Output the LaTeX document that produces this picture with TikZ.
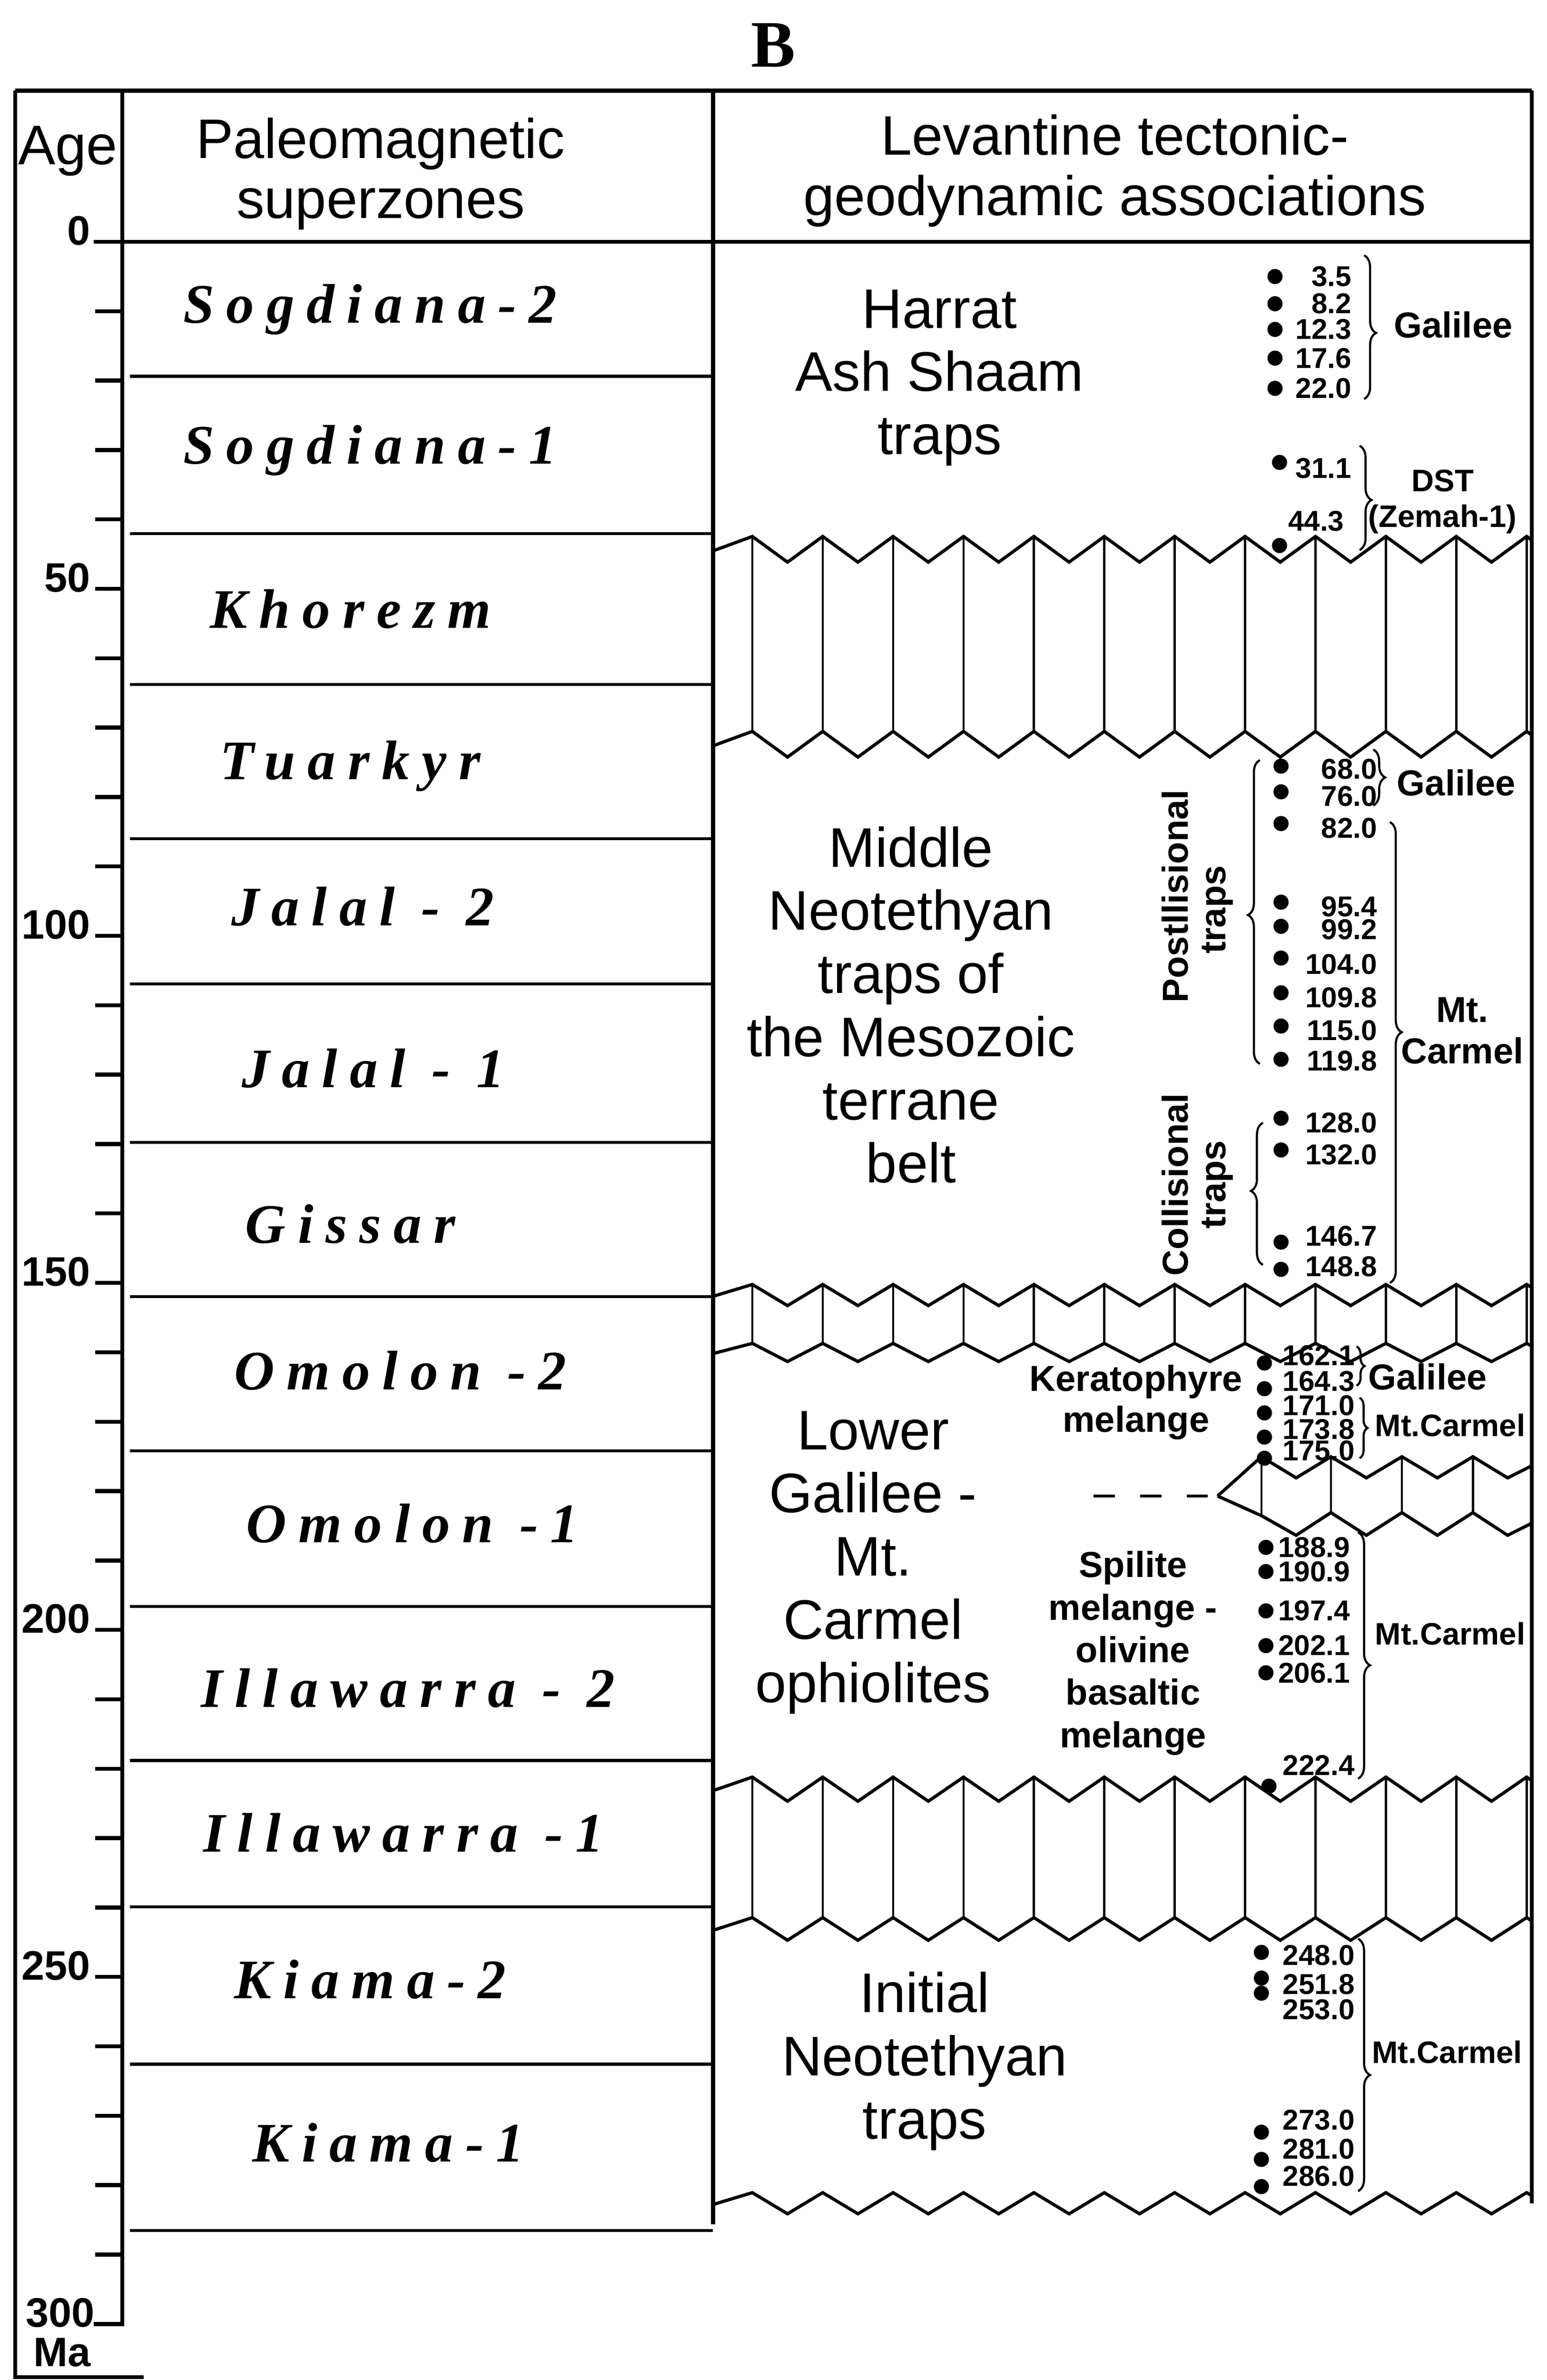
\documentclass[tikz,border=0pt]{standalone}
\usepackage{fontspec}
\setmainfont{Liberation Sans}
\newfontfamily\znfont[LetterSpace=22]{Liberation Serif}
\newfontfamily\titlefont{Liberation Serif}
\usetikzlibrary{decorations.pathreplacing}
\begin{document}
\begin{tikzpicture}[x=0.2mm,y=-0.2mm,
  thickl/.style={line width=1.5pt},
  zl/.style={line width=1.1pt},
  zz/.style={line width=1.2pt,line join=miter},
  vl/.style={line width=0.8pt},
  hdr/.style={font=\fontsize{21}{22.7}\selectfont,align=center,inner sep=0},
  big/.style={font=\fontsize{21}{23.8}\selectfont,align=center,inner sep=0},
  zname/.style={font=\fontsize{21}{24}\selectfont\znfont\bfseries\itshape,inner sep=0},
  agel/.style={font=\fontsize{15.5}{16}\selectfont\bfseries,inner sep=0,anchor=base east},
  num/.style={font=\fontsize{10.8}{12}\selectfont\bfseries,inner sep=0,anchor=east},
  lab/.style={font=\fontsize{13.6}{15.5}\selectfont\bfseries,inner sep=0,align=center},
  slab/.style={font=\fontsize{11.7}{13.5}\selectfont\bfseries,inner sep=0,align=center},
  br/.style={decorate,line width=0.8pt,decoration={brace,amplitude=4.5pt,#1}},
  br/.default={aspect=0.5},
  dot/.style={circle,fill,inner sep=0,minimum size=2mm}
]
\useasboundingbox (0,0) rectangle (1024,1575);
% title
\node[font=\fontsize{25}{28}\selectfont\titlefont\bfseries,inner sep=0] (title) at (512,30) {B};
% frame
\draw[thickl] (10,60) -- (1014,60);
\draw[thickl] (10,60) -- (10,1573) -- (95,1573);
\draw[thickl] (81,60) -- (81,1538) -- (62,1538);
\draw[thickl] (472,60) -- (472,1472);
\draw[thickl] (1014,60) -- (1014,1458);
\draw[thickl] (62,160) -- (1014,160);
% headers
\node[hdr] (hage) at (45,100) {Age};
\node[hdr] (hpal) at (252,115) {Paleomagnetic\\superzones};
\node[hdr] (hlev) at (738,113) {Levantine tectonic-\\geodynamic associations};
% ticks
\foreach \a in {10,20,...,290}{\draw[thickl] (63,{160+4.593*\a}) -- (81,{160+4.593*\a});}
\foreach \a in {0,50,100,150,200,250}{\node[agel] (age\a) at (60,{162+4.593*\a}) {\a};}
\node[agel] (age300) at (63,1540) {300};
\node[font=\fontsize{15.5}{16}\selectfont\bfseries,inner sep=0,anchor=base] (ma) at (41,1566) {Ma};
% zone lines
\foreach \y in {249,353,453,555,651,756,858,960,1063,1165,1262,1366,1476}{\draw[zl] (86,\y) -- (472,\y);}
% zone names
\node[zname] (z1) at (245,205) {Sogdiana-2};
\node[zname] (z2) at (245,298) {Sogdiana-1};
\node[zname] (z3) at (232,403) {Khorezm};
\node[zname] (z4) at (232,507) {Tuarkyr};
\node[zname] (z5) at (240,600) {Jalal - 2};
\node[zname] (z6) at (247,707) {Jalal - 1};
\node[zname] (z7) at (232,810) {Gissar};
\node[zname] (z8) at (265,907) {Omolon -2};
\node[zname] (z9) at (273,1008) {Omolon -1};
\node[zname] (z10) at (270,1117) {Illawarra - 2};
\node[zname] (z11) at (267,1213) {Illawarra -1};
\node[zname] (z12) at (245,1310) {Kiama-2};
\node[zname] (z13) at (257,1418) {Kiama-1};
% zigzag bands
\begin{scope}
\clip (472,0) rectangle (1014,1575);
\foreach \p/\amp in {355/17,484/17,850/14,889/12,1176/16,1269/15,1451/14}{
  \draw[zz] (451.7,\p+\amp) \foreach \k in {0,...,11}{ -- (498+46.6*\k,\p) -- (521.3+46.6*\k,\p+\amp)};
}
\foreach \k in {0,...,11}{
  \draw[vl] (498+46.6*\k,355) -- (498+46.6*\k,484);
  \draw[vl] (498+46.6*\k,850) -- (498+46.6*\k,889);
  \draw[vl] (498+46.6*\k,1176) -- (498+46.6*\k,1269);
}
% partial band
\draw[zz] (806,990) -- (835,964) -- (858,978) -- (881,964) -- (904.5,978) -- (928,964) -- (951.5,978) -- (975,964) -- (998,978) -- (1014,970);
\draw[zz] (806,990) -- (835,1003) -- (858,1016) -- (881,1001) -- (904.5,1016) -- (928,1001) -- (951.5,1016) -- (975,1001) -- (998,1016) -- (1014,1008);
\foreach \x in {835,881,928,975}{\draw[vl] (\x,964) -- (\x,1002);}
\end{scope}
\draw[line width=1.2pt,dash pattern=on 8pt off 9.5pt] (724,990) -- (800,990);
% big texts
\node[big] (harrat) at (622,250) {Harrat\\Ash Shaam\\traps};
\node[big] (middle) at (603,665) {Middle\\Neotethyan\\traps of\\the Mesozoic\\terrane\\belt};
\node[big] (lower) at (578,1034) {Lower\\Galilee -\\Mt.\\Carmel\\ophiolites};
\node[big] (initial) at (612,1364) {Initial\\Neotethyan\\traps};
% group 1
\foreach \n/\y/\t in {a1/183/3.5,a2/201/8.2,a3/218/12.3,a4/237/17.6,a5/257/22.0}{
  \node[dot] at (844,\y) {};
  \node[num] (\n) at (895,\y) {\t};
}
\draw[br={aspect=0.54}] (903,169) -- (903,264);
\node[lab] (gal1) at (962,215) {Galilee};
\node[dot] at (847,306) {};
\node[num] (b1) at (895,310) {31.1};
\node[num] (b2) at (890,345) {44.3};
\node[dot] at (847,361) {};
\draw[br={aspect=0.52}] (900,295) -- (900,364);
\node[slab] (dst) at (955,332) {DST\\(Zemah-1)};
% group 2
\foreach \n/\y/\t in {c1/509/68.0,c2/527/76.0,c3/548/82.0,c4/600/95.4,c5/615/99.2,c6/638/104.0,c7/660/109.8,c8/682/115.0,c9/702/119.8,c10/743/128.0,c11/764/132.0,c12/818/146.7,c13/838/148.8}{
  \node[num] (\n) at (912,\y) {\t};
}
\foreach \y in {507,524,545,597,613,634,657,679,701,740,761,822,840}{\node[dot] at (848,\y) {};}
\draw[br] (909,496) -- (909,533);
\node[lab] (gal2) at (964,518) {Galilee};
\draw[br={aspect=0.456}] (920,544) -- (920,849);
\node[lab] (carm2) at (968,682) {Mt.\\Carmel};
\draw[br={aspect=0.49}] (834,704) -- (834,503);
\draw[br={aspect=0.52}] (836,837) -- (836,743);
\node[lab,rotate=90] (post) at (778,593) {Postllisional};
\node[lab,rotate=90] (postt) at (806,602) {traps};
\node[lab,rotate=90] (coll) at (778,784) {Collisional};
\node[lab,rotate=90] (collt) at (806,784) {traps};
% group 3
\foreach \n/\y/\t in {d1/897/162.1,d2/914/164.3,d3/930/171.0,d4/946/173.8,d5/960/175.0}{
  \node[dot] at (837,\y+5) {};
  \node[num] (\n) at (897,\y) {\t};
}
\draw[br={amplitude=3pt}] (898,891) -- (898,917);
\node[lab] (gal3) at (945,911) {Galilee};
\draw[br={amplitude=3pt}] (900,925) -- (900,965);
\node[slab] (carm3) at (960,943) {Mt.Carmel};
\node[lab] (kera) at (752,928) {Keratophyre\\melange};
\node[lab,font=\fontsize{13.6}{16}\selectfont\bfseries] (spil) at (750,1094) {Spilite\\melange -\\olivine\\basaltic\\melange};
\foreach \n/\y/\t in {e1/1024/188.9,e2/1040/190.9,e3/1066/197.4,e4/1089/202.1,e5/1107/206.1}{
  \node[dot] at (838,\y) {};
  \node[num] (\n) at (894,\y) {\t};
}
\node[num] (e6) at (897,1168) {222.4};
\node[dot] at (840,1182) {};
\draw[br={aspect=0.54}] (899,1014) -- (899,1177);
\node[slab] (carm4) at (960,1081) {Mt.Carmel};
% group 4
\foreach \n/\y/\t in {f1/1294/248.0,f2/1313/251.8,f3/1330/253.0,f4/1403/273.0,f5/1422/281.0,f6/1440/286.0}{
  \node[num] (\n) at (897,\y) {\t};
}
\foreach \y in {1292,1309,1319,1411,1429,1447}{\node[dot] at (835,\y) {};}
\draw[br={aspect=0.54}] (899,1283) -- (899,1450);
\node[slab] (carm5) at (958,1358) {Mt.Carmel};
\end{tikzpicture}
\end{document}
